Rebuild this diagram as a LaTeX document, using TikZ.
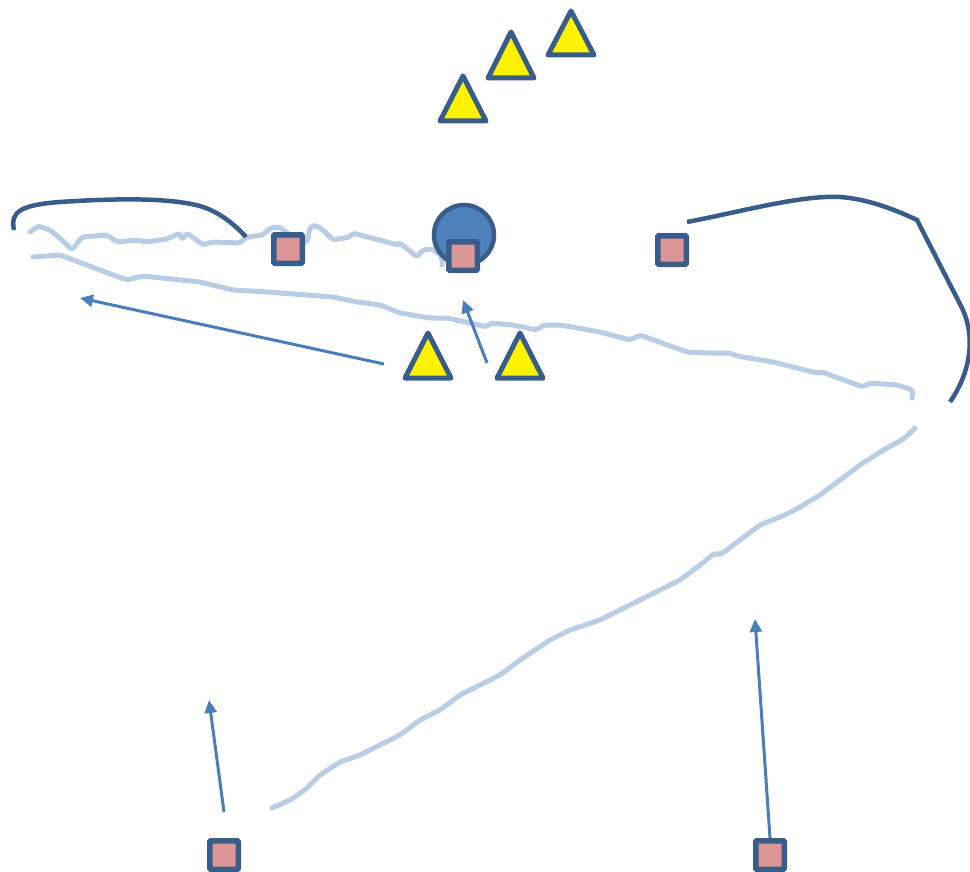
\documentclass[tikz,border=0pt]{standalone}
\usetikzlibrary{arrows.meta}
\definecolor{dkblue}{RGB}{56,93,138}
\definecolor{ltblue}{RGB}{185,205,229}
\definecolor{arblue}{RGB}{74,126,187}
\definecolor{pink}{RGB}{217,150,148}
\definecolor{circ}{RGB}{79,129,189}
\tikzset{
  sq/.style={draw=dkblue,fill=pink,line width=5.5pt,rectangle,rounded corners=1pt,minimum size=28.5pt,inner sep=0pt},
  blob/.style={draw=dkblue,fill=circ,line width=4.5pt,circle,minimum size=60pt,inner sep=0pt},
  tri/.style={draw=dkblue,fill=yellow,line width=5pt,line join=round},
  wig/.style={draw=ltblue,line width=5pt,line cap=round,line join=round,rounded corners=3pt},
  dk/.style={draw=dkblue,line width=4.5pt,line cap=butt},
  arr/.style={draw=arblue,line width=3pt,-{Triangle[length=13pt,width=12pt]}},
}
\begin{document}
\begin{tikzpicture}[x=1pt,y=-1pt]
\useasboundingbox (0,0) rectangle (970,872);
% light wiggly lines
\draw[wig] (30,232) -- (38,226) -- (50,230) -- (62,240) -- (72,250) -- (82,237) -- (107,235) -- (117,242) -- (137,240) -- (147,242) -- (167,239) -- (180,233) -- (182,240) -- (187,233) -- (203,245) -- (213,242) -- (240,243) -- (247,237) -- (263,235) -- (270,228) -- (280,227) -- (293,238) -- (307,243) -- (310,227) -- (315,225) -- (323,230) -- (333,240) -- (350,237) -- (353,233) -- (367,237) -- (380,240) -- (397,245) -- (400,243) -- (417,257) -- (423,250) -- (433,249) -- (442,257) -- (442,265);
\draw[wig] (33,257) -- (60,255) -- (100,270) -- (127,280) -- (143,276) -- (200,282) -- (233,290) -- (267,292) -- (333,297) -- (357,302) -- (380,305) -- (400,313) -- (430,318) -- (447,318) -- (470,323) -- (487,327) -- (490,323) -- (513,325) -- (537,330) -- (543,325) -- (560,325) -- (600,332) -- (630,340) -- (640,335) -- (687,352) -- (707,353) -- (730,353) -- (737,356) -- (773,362) -- (817,373) -- (822,372) -- (863,387) -- (870,383) -- (897,385) -- (913,390) -- (912,398);
\draw[wig] (915,428) -- (905,438) -- (880,452) -- (860,465) -- (840,480) -- (820,495) -- (800,507) -- (785,515) -- (760,525) -- (740,540) -- (720,555) -- (715,553) -- (700,565) -- (680,580) -- (660,590) -- (640,600) -- (620,610) -- (600,620) -- (570,630) -- (550,640) -- (520,660) -- (500,675) -- (480,685) -- (460,695) -- (440,710) -- (420,720) -- (400,735) -- (380,745) -- (360,755) -- (340,762) -- (320,775) -- (305,790) -- (290,800) -- (272,808);
% dark curves
\draw[dk] (14,230) .. controls (10,212) and (20,205) .. (60,202) .. controls (120,198) and (170,198) .. (200,206) .. controls (220,212) and (235,225) .. (246,237);
\draw[dk] (687,222) .. controls (740,212) and (800,195) .. (840,197) .. controls (870,199) and (900,212) .. (917,220) -- (962,308) .. controls (975,335) and (972,370) .. (950,402);
% nodes
\node[blob] (c) at (464,235) {};
\node[sq] (s1) at (288,249) {};
\node[sq] (s2) at (463,256) {};
\node[sq] (s3) at (672,250) {};
\node[sq] (s4) at (224,855) {};
\node[sq] (s5) at (770,855) {};
% triangles
\draw[tri] (571,11) -- ++(23,44) -- ++(-46,0) -- cycle;
\draw[tri] (511,32) -- ++(23,46) -- ++(-46,0) -- cycle;
\draw[tri] (463,76) -- ++(23,45) -- ++(-46,0) -- cycle;
\draw[tri] (428,333) -- ++(23,45) -- ++(-46,0) -- cycle;
\draw[tri] (520,333) -- ++(23,45) -- ++(-46,0) -- cycle;
% arrows
\coordinate (a1s) at (384,364); \coordinate (a1e) at (80,298);
\coordinate (a2s) at (487,363); \coordinate (a2e) at (463,300);
\coordinate (a3s) at (224,812); \coordinate (a3e) at (209,700);
\coordinate (a4e) at (755,619);
\draw[arr] (a1s) -- (a1e);
\draw[arr] (a2s) -- (a2e);
\draw[arr] (a3s) -- (a3e);
\draw[arr] (s5.north) -- (a4e);
\end{tikzpicture}
\end{document}
